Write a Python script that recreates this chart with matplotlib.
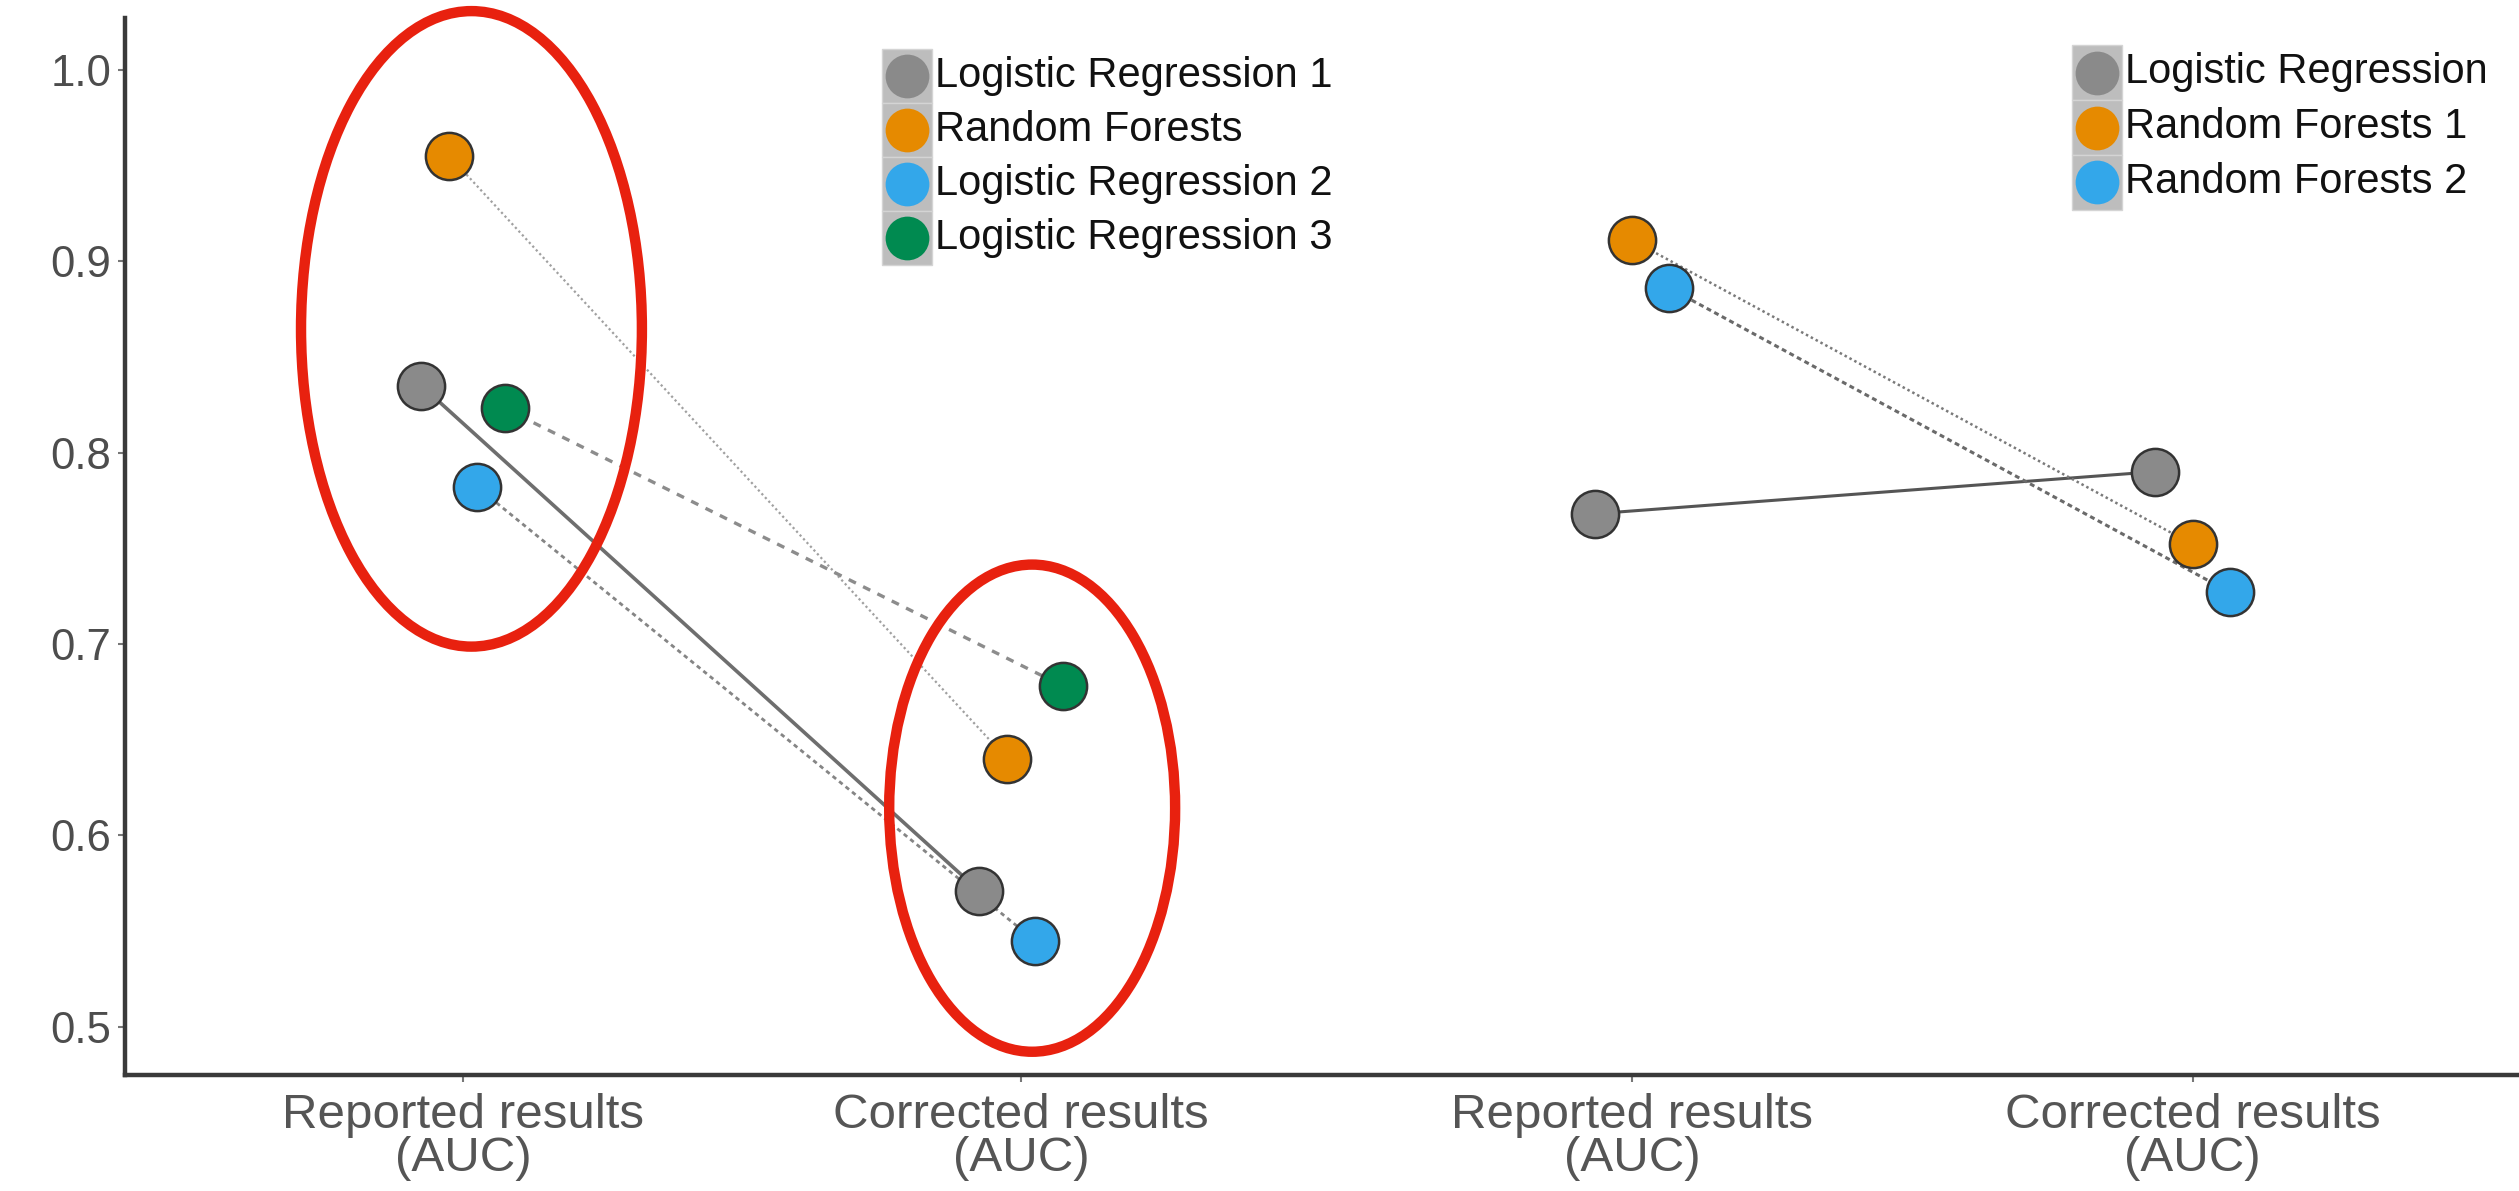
import matplotlib
matplotlib.use("Agg")
import matplotlib.pyplot as plt
from matplotlib.patches import Ellipse, Rectangle

plt.rcParams["font.family"] = ["Liberation Sans", "DejaVu Sans"]

# ---------------------------------------------------------------------------
# Data
# ---------------------------------------------------------------------------
stage_labels = ["Reported results\n(AUC)", "Corrected results\n(AUC)"]

left_models = ["Logistic Regression 1", "Random Forests",
               "Logistic Regression 2", "Logistic Regression 3"]
left_reported = [0.835, 0.955, 0.782, 0.823]
left_corrected = [0.571, 0.640, 0.545, 0.678]

right_models = ["Logistic Regression", "Random Forests 1", "Random Forests 2"]
right_reported = [0.768, 0.911, 0.886]
right_corrected = [0.790, 0.752, 0.727]

# ---------------------------------------------------------------------------
# Style
# ---------------------------------------------------------------------------
W, H = 2519, 1191
GREY, ORANGE, BLUE, GREEN = "#8a8a8a", "#e68a00", "#33a7ea", "#008a50"

left_colors = [GREY, ORANGE, BLUE, GREEN]
left_lines = [
    dict(color="#6e6e6e", lw=2.6, ls="-"),
    dict(color="#a0a0a0", lw=1.6, ls=(0, (1, 1.3))),
    dict(color="#858585", lw=2.0, ls=(0, (1.6, 1.4))),
    dict(color="#8c8c8c", lw=2.4, ls=(0, (2.4, 2.4))),
]
right_colors = [GREY, ORANGE, BLUE]
right_lines = [
    dict(color="#555555", lw=2.2, ls="-"),
    dict(color="#7a7a7a", lw=1.8, ls=(0, (1, 1.2))),
    dict(color="#6a6a6a", lw=2.2, ls=(0, (1.6, 1.2))),
]

left_x = [1.0, 2.0]
right_x = [3.095, 4.10]
DODGE = 0.2


def dodge(i, n):
    return -DODGE / 2 + DODGE / n * (i + 0.5)


fig = plt.figure(figsize=(W / 100, H / 100), dpi=100)
ax = fig.add_axes([125 / W, 1 - 1075 / H, 1 - 125 / W, (1075 - 18) / H])


def draw_panel(xs, models, reported, corrected, colors, lines):
    n = len(models)
    for i in range(n):
        off = dodge(i, n)
        px = [xs[0] + off, xs[1] + off]
        py = [reported[i], corrected[i]]
        ax.plot(px, py, zorder=2, solid_capstyle="butt", **lines[i])
        ax.plot(px, py, ls="none", marker="o", ms=34, mfc=colors[i],
                mec="#333333", mew=1.8, zorder=3)


draw_panel(left_x, left_models, left_reported, left_corrected,
           left_colors, left_lines)
draw_panel(right_x, right_models, right_reported, right_corrected,
           right_colors, right_lines)

# highlight rings round the left panel's clusters
for (cx, cy, ew, eh) in [(1.015, 0.8646, 0.611, 0.332),
                         (2.020, 0.6142, 0.5125, 0.2545)]:
    ax.add_patch(Ellipse((cx, cy), ew, eh, fill=False, ec="#e8210f",
                         lw=7.5, zorder=5, clip_on=False))

ax.set_xlim(0.394, 4.685)
ax.set_ylim(0.4748, 1.027)
ax.set_xticks(left_x + right_x)
ax.set_xticklabels(stage_labels * 2, fontsize=35.5, color="#555555",
                   linespacing=0.95)
ax.set_yticks([0.5, 0.6, 0.7, 0.8, 0.9, 1.0])
ax.set_yticklabels(["0.5", "0.6", "0.7", "0.8", "0.9", "1.0"],
                   fontsize=31.5, color="#4d4d4d")
ax.tick_params(axis="both", length=5, width=1.5, color="#777777", pad=8)
ax.tick_params(axis="y", pad=5)
for side in ("top", "right"):
    ax.spines[side].set_visible(False)
for side in ("left", "bottom"):
    ax.spines[side].set_linewidth(3.2)
    ax.spines[side].set_color("#3a3a3a")


# legends: grey key squares with a filled circle, drawn in pixel positions
def draw_legend(x0, y0, row, models, colors):
    key = 50
    for i, (name, c) in enumerate(zip(models, colors)):
        top = y0 + i * row
        fig.add_artist(Rectangle((x0 / W, 1 - (top + row) / H), key / W, row / H,
                                 transform=fig.transFigure, fc="#bdbdbd",
                                 ec="#d4d4d4", lw=1))
        cy = top + row / 2
        fig.add_artist(plt.Line2D([(x0 + key / 2) / W], [1 - cy / H],
                                  transform=fig.transFigure, ls="none",
                                  marker="o", ms=31.5, mfc=c, mec="none"))
        fig.text((x0 + key + 3) / W, 1 - cy / H, name, fontsize=30,
                 color="#111111", va="center", ha="left")


draw_legend(882, 49, 54, left_models, left_colors)
draw_legend(2072, 45, 55, right_models, right_colors)

fig.savefig("out.png", dpi=100, facecolor="white")
